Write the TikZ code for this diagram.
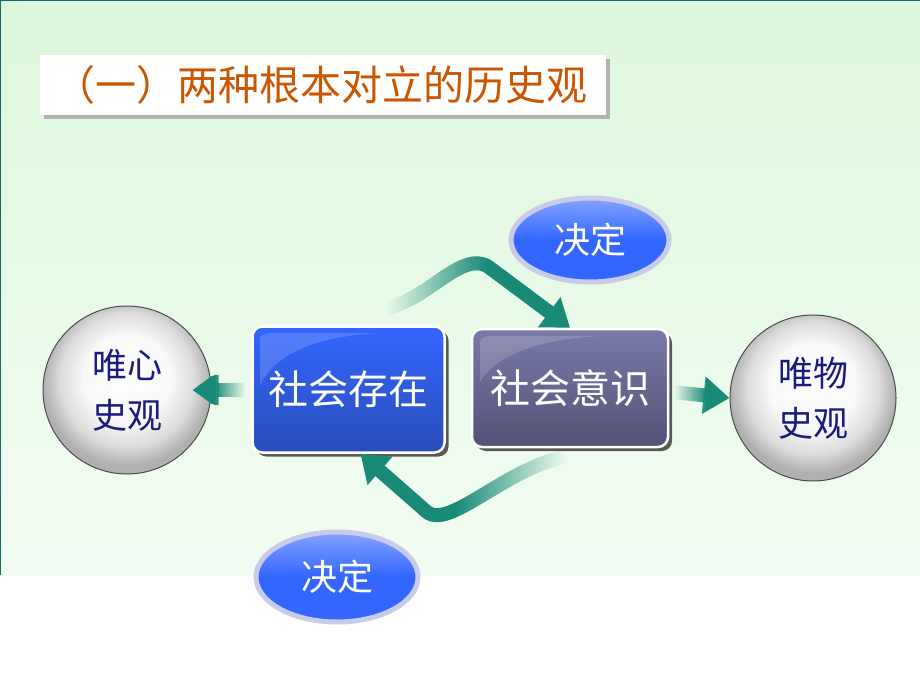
\documentclass[tikz,border=0pt]{standalone}
\usepackage{fontspec}
\newfontfamily\cjk{Noto Sans CJK SC}
\usetikzlibrary{arrows.meta,shapes.geometric,shadows,fadings}
\definecolor{slidegreen}{HTML}{DCF7DC}
\definecolor{frameteal}{HTML}{0E6E66}
\definecolor{titleorange}{HTML}{CC5500}
\definecolor{navytext}{HTML}{1A1A80}
\definecolor{arrowteal}{HTML}{1A8A78}
\definecolor{boxblue}{HTML}{3366FF}
\definecolor{boxbluedark}{HTML}{2A4DB8}
\definecolor{boxgray}{HTML}{7A7AA8}
\definecolor{boxgraydark}{HTML}{525277}
\definecolor{halo}{HTML}{C8CCE8}
\begin{tikzfadingfrompicture}[name=fadeleft]
  \fill[transparent!100] (-50bp,-50bp) rectangle (-19bp,50bp);
  \shade[left color=transparent!100, right color=transparent!0] (-19bp,-50bp) rectangle (4bp,50bp);
  \fill[transparent!0] (4bp,-50bp) rectangle (50bp,50bp);
\end{tikzfadingfrompicture}
\begin{tikzfadingfrompicture}[name=faderight]
  \fill[transparent!0] (-50bp,-50bp) rectangle (-4bp,50bp);
  \shade[left color=transparent!0, right color=transparent!100] (-4bp,-50bp) rectangle (19bp,50bp);
  \fill[transparent!100] (19bp,-50bp) rectangle (50bp,50bp);
\end{tikzfadingfrompicture}
\pgfdeclareradialshading{spherebody}{\pgfpoint{0bp}{5bp}}{color(0bp)=(white);
  color(13bp)=(white!95!gray); color(20bp)=(gray!28); color(25bp)=(gray!62); color(50bp)=(gray!62)}
\tikzset{
  sphere/.style={circle, minimum size=168pt, inner sep=0pt, shading=spherebody,
    draw=gray!60!black, line width=1pt,
    align=center, text=navytext, font=\cjk\fontsize{35}{50}\selectfont},
  bigbox/.style={rectangle, rounded corners=10pt, draw=white, line width=2.5pt,
    minimum width=192pt, minimum height=126pt, text=white,
    font=\cjk\fontsize{40}{40}\selectfont,
    drop shadow={shadow xshift=4pt, shadow yshift=-4pt, fill=gray!70!black, opacity=1}},
  gloss/.style={white, opacity=0.16},
  decide/.style={ellipse, minimum width=158pt, minimum height=84pt, draw=halo,
    line width=5pt, top color=boxblue!60!white, bottom color=boxblue,
    middle color=boxblue, text=white, font=\cjk\fontsize{36}{40}\selectfont},
  flow/.style={line width=14pt, draw=arrowteal, -{Triangle[length=26pt,width=36pt]}},
}

\begin{document}
\begin{tikzpicture}[x=1pt,y=-1pt]
  \useasboundingbox (0,0) rectangle (920,690);
  % slide background
  \fill[white] (0,0) rectangle (920,690);
  \shade[top color=slidegreen, bottom color=slidegreen!35!white] (0,0) rectangle (920,575);
  \draw[frameteal, line width=2pt] (0,575) -- (0,0) -- (920,0);

  % title
  \node (title) at (323,85) [fill=white, minimum width=566pt, minimum height=60pt,
    inner xsep=14pt, inner ysep=0pt, text width=538pt, align=left, text=titleorange,
    font=\cjk\fontsize{41}{44}\selectfont,
    drop shadow={shadow xshift=4pt, shadow yshift=-4pt, fill=gray!60, opacity=1}]
    {（一）两种根本对立的历史观};

  % the two views
  \node (idealism) at (127,390) [sphere] {唯心\\史观};
  \node (materialism) at (813,398) [sphere, minimum size=166pt] {唯物\\史观};

  % being and consciousness
  \node (exist) at (348.5,389.5) [bigbox, top color=boxblue, bottom color=boxbluedark] {社会存在};
  \node (consc) at (570,388) [bigbox, minimum width=196pt, minimum height=118pt,
    top color=boxgray, bottom color=boxgraydark] {社会意识};
  \fill[gloss] (260,386) -- (260,343) .. controls (260,335) .. (269,333) -- (380,333)
    .. controls (320,336) and (275,352) .. (260,386) -- cycle;
  \fill[gloss] (480,382) -- (480,346) .. controls (480,338) .. (489,336) -- (600,336)
    .. controls (540,339) and (495,355) .. (480,382) -- cycle;

  % labels
  \node (decideA) at (590,240) [decide] {决定};
  \node (decideB) at (337,577) [decide, minimum width=162pt, minimum height=90pt] {决定};

  % connectors
  \coordinate (ltail) at (246,390);
  \coordinate (rtail) at (672,392);
  \coordinate (ttail) at (368,310);
  \coordinate (btail) at (588,455);
  \draw[flow, path fading=fadeleft] (ttail) .. controls (420,314) and (460,245) .. (490,268) -- (consc.north);
  \draw[flow, path fading=faderight] (btail) .. controls (520,452) and (452,532) .. (427,512) -- ([xshift=12pt]exist.south);
  \draw[flow, path fading=faderight] (ltail) -- ([xshift=-19pt]idealism.east);
  \draw[flow, path fading=fadeleft] (rtail) -- (materialism.west);
\end{tikzpicture}
\end{document}
